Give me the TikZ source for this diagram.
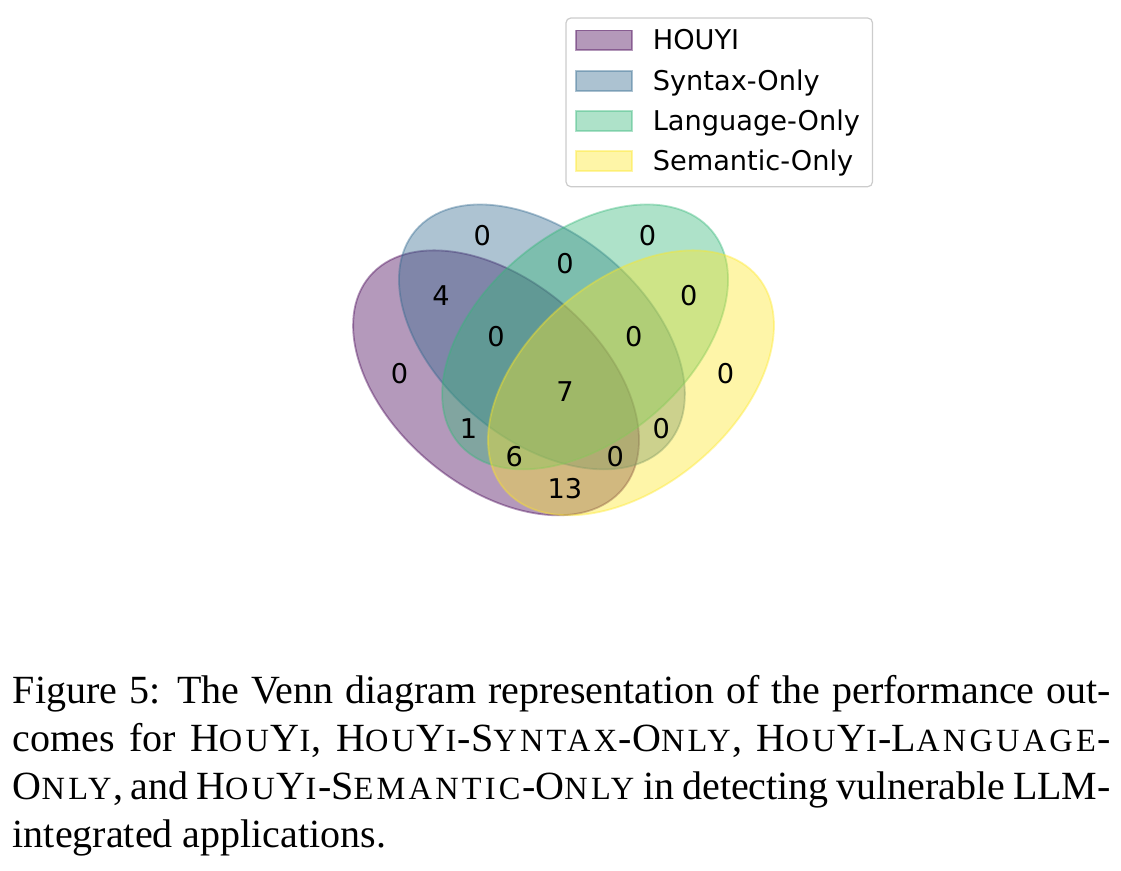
\documentclass[tikz,border=0pt]{standalone}
\usepackage{fontspec}
\setmainfont{Liberation Serif}
\newfontfamily\plotfont{DejaVu Sans}
\newfontfamily\scfont[LetterSpace=10]{Liberation Serif}

\definecolor{vpurple}{RGB}{68,1,84}
\definecolor{vblue}{RGB}{49,104,142}
\definecolor{vgreen}{RGB}{53,183,121}
\definecolor{vyellow}{RGB}{253,231,37}

% fake small capitals for the caption
\newcommand{\fsc}[1]{{\scfont\fontsize{8.1pt}{9pt}\selectfont #1\kern0.4pt}}
\newcommand{\houyi}{H\fsc{OU}Y\fsc{I}}

\tikzset{
  venn/.style={fill=#1, draw=#1, fill opacity=0.4, draw opacity=0.4, line width=0.45pt},
  count/.style={font=\plotfont\fontsize{6.8pt}{8pt}\selectfont, inner sep=0pt},
  legpatch/.style={venn=#1, minimum width=13.9pt, minimum height=4.9pt, inner sep=0pt},
}

\begin{document}
\begin{tikzpicture}[x=0.25pt, y=0.25pt]
    \useasboundingbox (0,0) rectangle (1121,870);
    % legend
    \draw[black!20, line width=0.3pt, fill=white, rounded corners=1.2pt] (566,852) rectangle (872.5,683.3);
    \node[legpatch=vpurple] (p1) at (604,829.7) {};
    \node[legpatch=vblue]   (p2) at (604,789.2) {};
    \node[legpatch=vgreen]  (p3) at (604,749.2) {};
    \node[legpatch=vyellow] (p4) at (604,709.2) {};
    \node[count, anchor=base west] (l1) at (652,820)   {HOUYI};
    \node[count, anchor=base west] (l2) at (652,779.5) {Syntax-Only};
    \node[count, anchor=base west] (l3) at (652,739.5) {Language-Only};
    \node[count, anchor=base west] (l4) at (652,699.5) {Semantic-Only};
    % ellipses
    \begin{scope}[shift={(335.4,303.6)}, scale=459]
        \path[venn=vpurple, rotate around={140:(0.35,0.4)}]  (0.35,0.4)  ellipse [x radius=0.36, y radius=0.225];
        \path[venn=vblue,   rotate around={140:(0.45,0.5)}]  (0.45,0.5)  ellipse [x radius=0.36, y radius=0.225];
        \path[venn=vgreen,  rotate around={40:(0.544,0.5)}]  (0.544,0.5) ellipse [x radius=0.36, y radius=0.225];
        \path[venn=vyellow, rotate around={40:(0.644,0.4)}]  (0.644,0.4) ellipse [x radius=0.36, y radius=0.225];
        \foreach \cx/\cy/\set/\val in {0.85/0.42/0001/0, 0.68/0.72/0010/0, 0.77/0.59/0011/0,
            0.32/0.72/0100/0, 0.71/0.30/0101/0, 0.50/0.66/0110/0, 0.65/0.50/0111/0,
            0.14/0.42/1000/0, 0.50/0.17/1001/13, 0.29/0.30/1010/1, 0.39/0.24/1011/6,
            0.23/0.59/1100/4, 0.61/0.24/1101/0, 0.35/0.50/1110/0, 0.50/0.38/1111/7}
            \node[count] (c\set) at (\cx,\cy) {\val};
    \end{scope}
    % caption
    \node[anchor=base west, inner sep=0pt] (cap) at (12,167) {\parbox[t]{274.5pt}{%
        Figure 5: The Venn diagram representation of the performance out-\linebreak
        comes for \houyi, \houyi-S\fsc{YNTAX}-O\fsc{NLY}, \houyi-L\fsc{ANGUAGE}-\linebreak
        O\fsc{NLY}, and \houyi-S\fsc{EMANTIC}-O\fsc{NLY} in detecting vulnerable LLM-\linebreak
        integrated applications.}};
\end{tikzpicture}
\end{document}
